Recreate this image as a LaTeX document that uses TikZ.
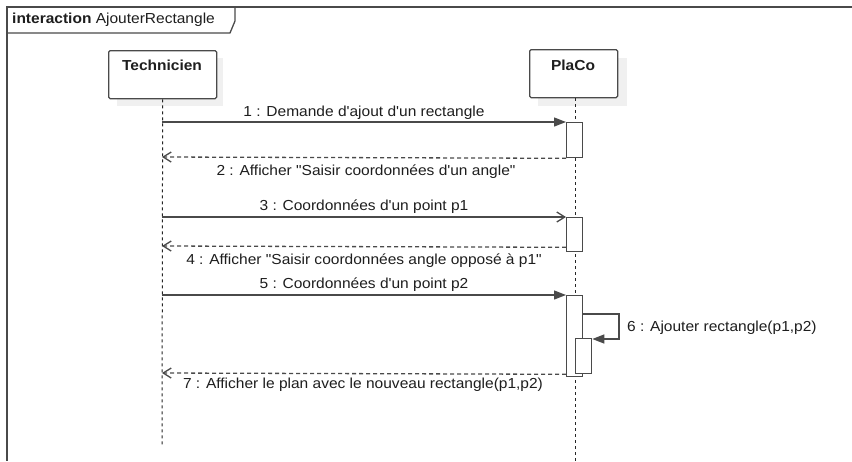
\documentclass[tikz,border=0pt]{standalone}
\usepackage{fontspec}
\setmainfont{Liberation Sans}[FakeStretch=1.07,Ligatures=TeXOff]
\usetikzlibrary{arrows.meta}
\definecolor{ink}{HTML}{4A4A4A}
\definecolor{txt}{HTML}{1E1E1E}
\definecolor{shade}{HTML}{F0F0F0}
\tikzset{
  every node/.style={font=\fontsize{14.5}{17}\selectfont, text=txt},
  frameline/.style={draw=ink, line width=1.3pt},
  actor/.style={draw=ink, line width=1.3pt, fill=white, rounded corners=1.5pt,
    minimum width=108pt, minimum height=48pt, inner sep=0pt, anchor=north west},
  actorshadow/.style={fill=shade, minimum width=106pt, minimum height=48pt,
    inner sep=0pt, anchor=north west},
  actortext/.style={font=\fontsize{14.5}{17}\selectfont\bfseries},
  lifeline/.style={draw=black!85, line width=1pt, dash pattern=on 3pt off 3pt},
  activation/.style={draw=ink, line width=1.3pt, fill=white, inner sep=0pt,
    minimum width=16pt, anchor=north west},
  callmsg/.style={draw=ink, line width=1.3pt, -{Triangle[length=12pt,width=9pt]}},
  asyncmsg/.style={draw=ink, line width=1.3pt, -{Straight Barb[length=8pt,width=10pt,line width=1.3pt]}},
  replymsg/.style={draw=ink, line width=1.3pt, dash pattern=on 4pt off 3pt,
    -{Straight Barb[length=8pt,width=10pt,line width=1.3pt]}},
  lbl/.style={inner sep=0pt},
}
\begin{document}
\begin{tikzpicture}[x=1pt,y=-1pt]
\useasboundingbox (0,0) rectangle (852,461);
\fill[white] (0,0) rectangle (852,461);

% interaction frame with its name tab
\draw[frameline] (852,7) -- (7,7) -- (7,461);
\draw[frameline] (7,33) -- (230,33) -- (235,21) -- (235,7);
\node[anchor=west, inner sep=0pt] (title) at (12,20)
  {\textbf{interaction} AjouterRectangle};

% participants
\node[actorshadow] (techsh) at (117,58) {};
\node[actor] (tech) at (108,50) {};
\node[actortext] (techname) at (162,65) {Technicien};
\node[actorshadow, minimum width=89pt] (placosh) at (538,58) {};
\node[actor, minimum width=88pt] (placo) at (529,49) {};
\node[actortext] (placoname) at (573,65) {PlaCo};

% lifelines
\coordinate (techend) at (162,447);
\coordinate (placoend) at (575,461);
\draw[lifeline] (tech.south) -- (techend);
\draw[lifeline] (placo.south -| placoend) -- (placoend);

% activation bars
\node[activation, minimum height=35pt] (act1) at (566,122) {};
\node[activation, minimum height=34pt] (act2) at (566,217) {};
\node[activation, minimum height=81pt] (act3) at (566,295) {};
\node[activation, minimum height=35pt] (act4) at (575,338) {};

% sender points on the Technicien lifeline
\coordinate (t1) at (162,122);
\coordinate (t2) at (162,157);
\coordinate (t3) at (162,217);
\coordinate (t4) at (162,246);
\coordinate (t5) at (162,295);
\coordinate (t7) at (162,373);
\coordinate (loopa) at (619,314);
\coordinate (loopb) at (619,339);

% messages
\draw[callmsg] (t1) -- (act1.north west);
\node[lbl] (l1) at (364,113) {1 : Demande d'ajout d'un rectangle};

\draw[replymsg] (act1.south west) -- (t2);
\node[lbl] (l2) at (366,172) {2 : Afficher "Saisir coordonnées d'un angle"};

\draw[asyncmsg] (t3) -- (act2.north west);
\node[lbl] (l3) at (364,207) {3 : Coordonnées d'un point p1};

\draw[replymsg] ([yshift=5pt]act2.south west) -- (t4);
\node[lbl] (l4) at (364,261) {4 : Afficher "Saisir coordonnées angle opposé à p1"};

\draw[callmsg] (t5) -- (act3.north west);
\node[lbl] (l5) at (364,285) {5 : Coordonnées d'un point p2};

\draw[callmsg] (act3.east |- loopa) -- (loopa) -- (loopb) -- (act4.east |- loopb);
\node[lbl, anchor=west] (l6) at (627,328) {6 : Ajouter rectangle(p1,p2)};

\draw[replymsg] ([yshift=3pt]act3.south west) -- (t7);
\node[lbl] (l7) at (363,385) {7 : Afficher le plan avec le nouveau rectangle(p1,p2)};
\end{tikzpicture}
\end{document}
